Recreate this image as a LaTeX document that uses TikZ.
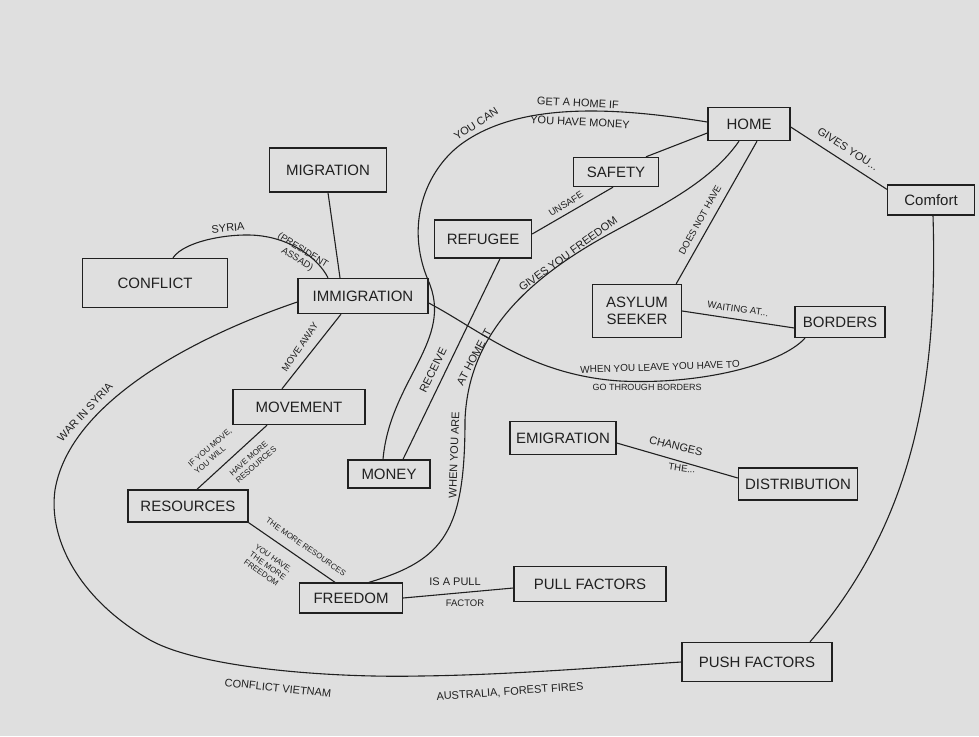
\documentclass[tikz,border=0pt]{standalone}
\usepackage{fontspec}
\setmainfont{Liberation Sans}
\definecolor{ink}{RGB}{32,32,32}
\definecolor{paper}{RGB}{223,223,223}
\begin{document}
\begin{tikzpicture}[x=1pt,y=-1pt,
    concept/.style={draw=ink, line width=1.4pt, minimum height=31pt, inner sep=2pt,
      text=ink, font=\fontsize{15}{17}\selectfont},
    link/.style={draw=ink, line width=1.1pt},
    note/.style={text=ink, inner sep=1pt, align=center, font=\fontsize{11}{12.5}\selectfont},
    tinynote/.style={text=ink, inner sep=1pt, align=left, font=\fontsize{8}{9.5}\selectfont}]

  % Paper (fixes the size of the picture)
  \fill[paper] (0,0) rectangle (979,736);

  % Concepts
  \node[concept, minimum width=117pt, minimum height=44pt] (migration) at (328,170) {MIGRATION};
  \node[concept, minimum width=145pt, minimum height=49pt] (conflict) at (155,283) {CONFLICT};
  \node[concept, minimum width=130pt, minimum height=35pt] (immigration) at (363,296) {IMMIGRATION};
  \node[concept, minimum width=82pt, minimum height=33pt] (home) at (749,124) {HOME};
  \node[concept, minimum width=87pt, minimum height=30pt] (comfort) at (931,200) {Comfort};
  \node[concept, minimum width=85pt, minimum height=29pt] (safety) at (616,172) {SAFETY};
  \node[concept, minimum width=97pt, minimum height=38pt] (refugee) at (483,239) {REFUGEE};
  \node[concept, minimum width=89pt, minimum height=53pt, align=center] (asylum) at (637,311) {ASYLUM\\SEEKER};
  \node[concept, minimum width=90pt] (borders) at (840,322) {BORDERS};
  \node[concept, minimum width=132pt, minimum height=35pt] (movement) at (299,407) {MOVEMENT};
  \node[concept, minimum width=82pt, minimum height=28pt] (money) at (389,474) {MONEY};
  \node[concept, minimum width=120pt, minimum height=32pt] (resources) at (188,506) {RESOURCES};
  \node[concept, minimum width=103pt, minimum height=30pt] (freedom) at (351,598) {FREEDOM};
  \node[concept, minimum width=152pt, minimum height=35pt] (pull) at (590,584) {PULL FACTORS};
  \node[concept, minimum width=106pt, minimum height=33pt] (emigration) at (563,438) {EMIGRATION};
  \node[concept, minimum width=119pt, minimum height=32pt] (distribution) at (798,484) {DISTRIBUTION};
  \node[concept, minimum width=150pt, minimum height=39pt] (push) at (757,662) {PUSH FACTORS};

  % Left part
  \draw[link] (migration.south) -- ([xshift=-23pt]immigration.north);
  \draw[link] ([xshift=18pt]conflict.north) .. controls (185,240) and (235,232) .. (262,236)
    .. controls (292,240) and (318,258) .. ([xshift=-35pt]immigration.north);
  \node[note, rotate=5] (syria) at (228,228) {SYRIA};
  \node[note, rotate=-32, font=\fontsize{9.5}{10.5}\selectfont] (assad) at (300,255) {(PRESIDENT\\ASSAD)};

  \draw[link] ([xshift=-22pt]immigration.south) -- ([xshift=-17pt]movement.north);
  \node[note, rotate=56, font=\fontsize{9.5}{10.5}\selectfont] (moveaway) at (300,347) {MOVE AWAY};

  \draw[link] ([xshift=-32pt]movement.south) -- ([xshift=9pt]resources.north);
  \node[tinynote, rotate=41] (ifmove) at (213,451) {IF YOU MOVE,\\YOU WILL};
  \node[tinynote, rotate=41] (havemore) at (253,461) {HAVE MORE\\RESOURCES};

  \draw[link] (resources.south east) -- ([xshift=-16pt]freedom.north);
  \node[tinynote, rotate=-35] (themore) at (306,547) {THE MORE RESOURCES};
  \node[tinynote, rotate=-35] (youhave) at (268,566) {YOU HAVE,\\THE MORE\\FREEDOM};

  % Big loop round the left and the bottom
  \draw[link] ([yshift=-6pt]immigration.west) .. controls (200,335) and (70,400) .. (55,490)
    .. controls (48,540) and (80,600) .. (150,640)
    .. controls (200,668) and (330,678) .. (420,676)
    .. controls (510,675) and (620,666) .. (push.west);
  \node[note, rotate=47] (warsyria) at (85,412) {WAR IN SYRIA};
  \node[note, rotate=-6] (vietnam) at (278,688) {CONFLICT VIETNAM};
  \node[note, rotate=4] (australia) at (510,692) {AUSTRALIA, FOREST FIRES};

  % Right part
  \draw[link] ([yshift=-3pt]home.east) -- ([yshift=-5pt]comfort.north west);
  \node[note, rotate=-33] (givesyou) at (848,149) {GIVES YOU...};
  \draw[link] ([xshift=2pt]comfort.south) .. controls (938,380) and (915,520) .. ([xshift=53pt]push.north);

  \draw[link] ([yshift=-9pt]home.west) -- ([xshift=30pt]safety.north);
  \draw[link] ([xshift=-3pt]safety.south) -- ([yshift=5pt]refugee.east);
  \node[note, rotate=32, font=\fontsize{9.5}{10.5}\selectfont] (unsafe) at (566,204) {UNSAFE};

  \draw[link] ([xshift=8pt]home.south) -- ([xshift=-6pt]asylum.north east);
  \node[note, rotate=61, font=\fontsize{9.5}{10.5}\selectfont] (doesnot) at (700,220) {DOES NOT HAVE};

  \draw[link] (asylum.east) -- ([yshift=-6pt]borders.west);
  \node[note, rotate=-8, font=\fontsize{9.5}{10.5}\selectfont] (waiting) at (738,309) {WAITING AT...};

  \draw[link] ([yshift=-7pt]immigration.east) .. controls (480,330) and (530,375) .. (620,381)
    .. controls (700,385) and (780,365) .. ([xshift=-35pt]borders.south);
  \node[note, rotate=2, font=\fontsize{10}{11}\selectfont] (leave) at (660,367) {WHEN YOU LEAVE YOU HAVE TO};
  \node[note, font=\fontsize{9}{10}\selectfont] (through) at (647,387) {GO THROUGH BORDERS};

  % Middle curves
  \draw[link] ([yshift=2pt]home.west) .. controls (620,108) and (520,100) .. (460,145)
    .. controls (425,172) and (405,225) .. (428,280)
    .. controls (455,340) and (390,380) .. ([xshift=-6pt]money.north);
  \node[note, rotate=33] (youcan) at (476,124) {YOU CAN};
  \node[note, rotate=-3] (getahome) at (578,103) {GET A HOME IF};
  \node[note, rotate=-3] (havemoney) at (580,122) {YOU HAVE MONEY};

  \draw[link] ([xshift=17pt]refugee.south) -- ([xshift=14pt]money.north);
  \node[note, rotate=64] (receive) at (433,370) {RECEIVE};

  \draw[link] ([xshift=-10pt]home.south) .. controls (705,190) and (640,215) .. (590,245)
    .. controls (520,287) and (468,340) .. (465,420)
    .. controls (465,530) and (445,560) .. ([xshift=18pt]freedom.north);
  \node[note, rotate=88] (whenyou) at (454,455) {WHEN YOU ARE};
  \node[note, rotate=62] (athome) at (474,357) {AT HOME IT};
  \node[note, rotate=36] (givesfree) at (568,254) {GIVES YOU FREEDOM};

  % Bottom
  \draw[link] (freedom.east) -- ([yshift=-4pt]pull.west);
  \node[note] (isapull) at (455,582) {IS A PULL};
  \node[note, font=\fontsize{9.5}{10.5}\selectfont] (factor) at (465,603) {FACTOR};

  \draw[link] ([yshift=-5pt]emigration.east) -- ([yshift=6pt]distribution.west);
  \node[note, rotate=-14] (changes) at (676,446) {CHANGES};
  \node[note, rotate=-8, font=\fontsize{9.5}{10.5}\selectfont] (the) at (682,468) {THE...};
\end{tikzpicture}
\end{document}
